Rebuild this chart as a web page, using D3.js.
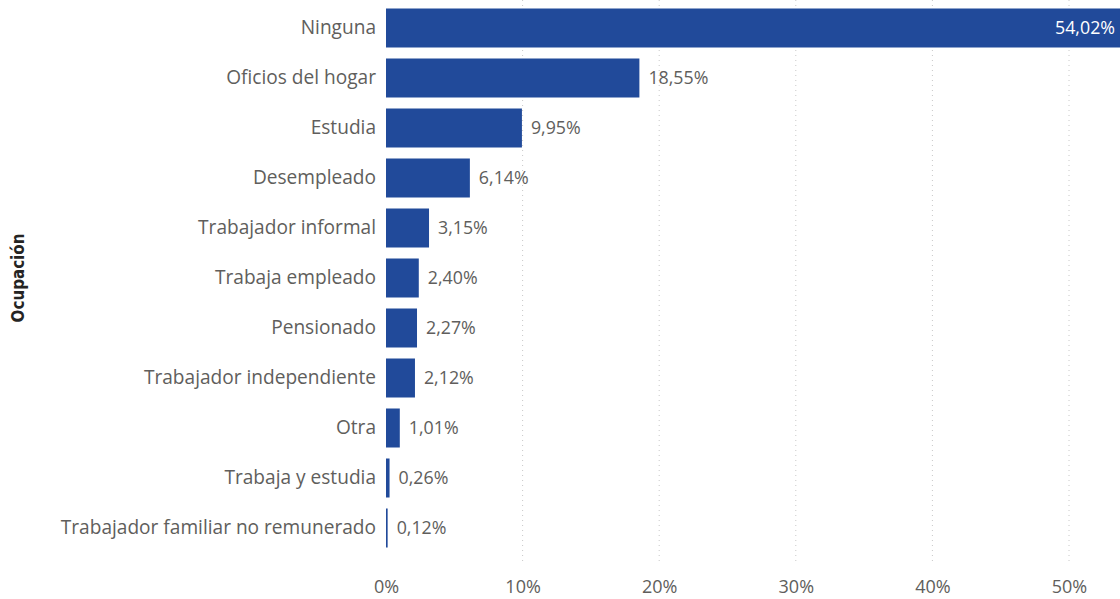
<!DOCTYPE html>
<html><head><meta charset="utf-8">
<script src="https://cdn.jsdelivr.net/npm/d3@7"></script>
<style>body{margin:0;background:#fff}svg{display:block}</style>
</head><body>
<svg id="c" width="1120" height="599"></svg>
<script>
const categories = ["Ninguna","Oficios del hogar","Estudia","Desempleado","Trabajador informal","Trabaja empleado","Pensionado","Trabajador independiente","Otra","Trabaja y estudia","Trabajador familiar no remunerado"];
const values = [54.02,18.55,9.95,6.14,3.15,2.40,2.27,2.12,1.01,0.26,0.12];
const ticks = [0,10,20,30,40,50];
const axisTitle = "Ocupación";

const svg = d3.select("#c");
const font = "'Open Sans', 'Noto Sans', sans-serif";
const x = d3.scaleLinear().domain([0,50]).range([386,1069]);
const y = d3.scaleBand().domain(categories).range([3,553]).paddingInner(0.22).paddingOuter(0.11);
const fmt = v => v.toFixed(2).replace(".", ",") + "%";

// grid
svg.append("g").selectAll("line").data(ticks.slice(1)).join("line")
  .attr("x1", d=>x(d)).attr("x2", d=>x(d)).attr("y1", 0).attr("y2", 565)
  .attr("stroke", "#c8c8c8").attr("stroke-width", 1).attr("stroke-dasharray", "1,4");

// bars
svg.append("g").selectAll("rect").data(values).join("rect")
  .attr("x", x(0)).attr("y", (d,i)=>y(categories[i]))
  .attr("width", d=>Math.max(1.5, x(d)-x(0))).attr("height", y.bandwidth())
  .attr("fill", "#214A9A");

// value labels
svg.append("g").selectAll("text").data(values).join("text")
  .attr("x", d => x(d) > 1000 ? 1115 : x(d) + 9)
  .attr("y", (d,i)=>y(categories[i]) + y.bandwidth()/2)
  .attr("dy", "0.35em")
  .attr("text-anchor", d => x(d) > 1000 ? "end" : "start")
  .attr("fill", d => x(d) > 1000 ? "#ffffff" : "#605E5C")
  .style("font-family", font).style("font-size", "17.8px")
  .text(fmt);

// category labels
const ya = d3.axisLeft(y).tickSize(0).tickPadding(10);
const gy = svg.append("g").attr("transform", "translate(386,0)").call(ya);
gy.select(".domain").remove();
gy.selectAll("text").attr("fill", "#605E5C").style("font-family", font).style("font-size", "19.1px");

// x axis
const xa = d3.axisBottom(x).tickValues(ticks).tickSize(0).tickPadding(0).tickFormat(d=>d+"%");
const gx = svg.append("g").attr("transform", "translate(0,580)").call(xa);
gx.select(".domain").remove();
gx.selectAll("text").attr("fill", "#605E5C").style("font-family", font).style("font-size", "18px");

// axis title
svg.append("text").attr("transform", "translate(24,278) rotate(-90)")
  .attr("text-anchor", "middle").attr("fill", "#252423")
  .style("font-family", "'DejaVu Sans Condensed', 'Liberation Sans Narrow', sans-serif")
  .style("font-weight", "bold").style("font-size", "16.8px").text(axisTitle);
</script>
</body></html>
